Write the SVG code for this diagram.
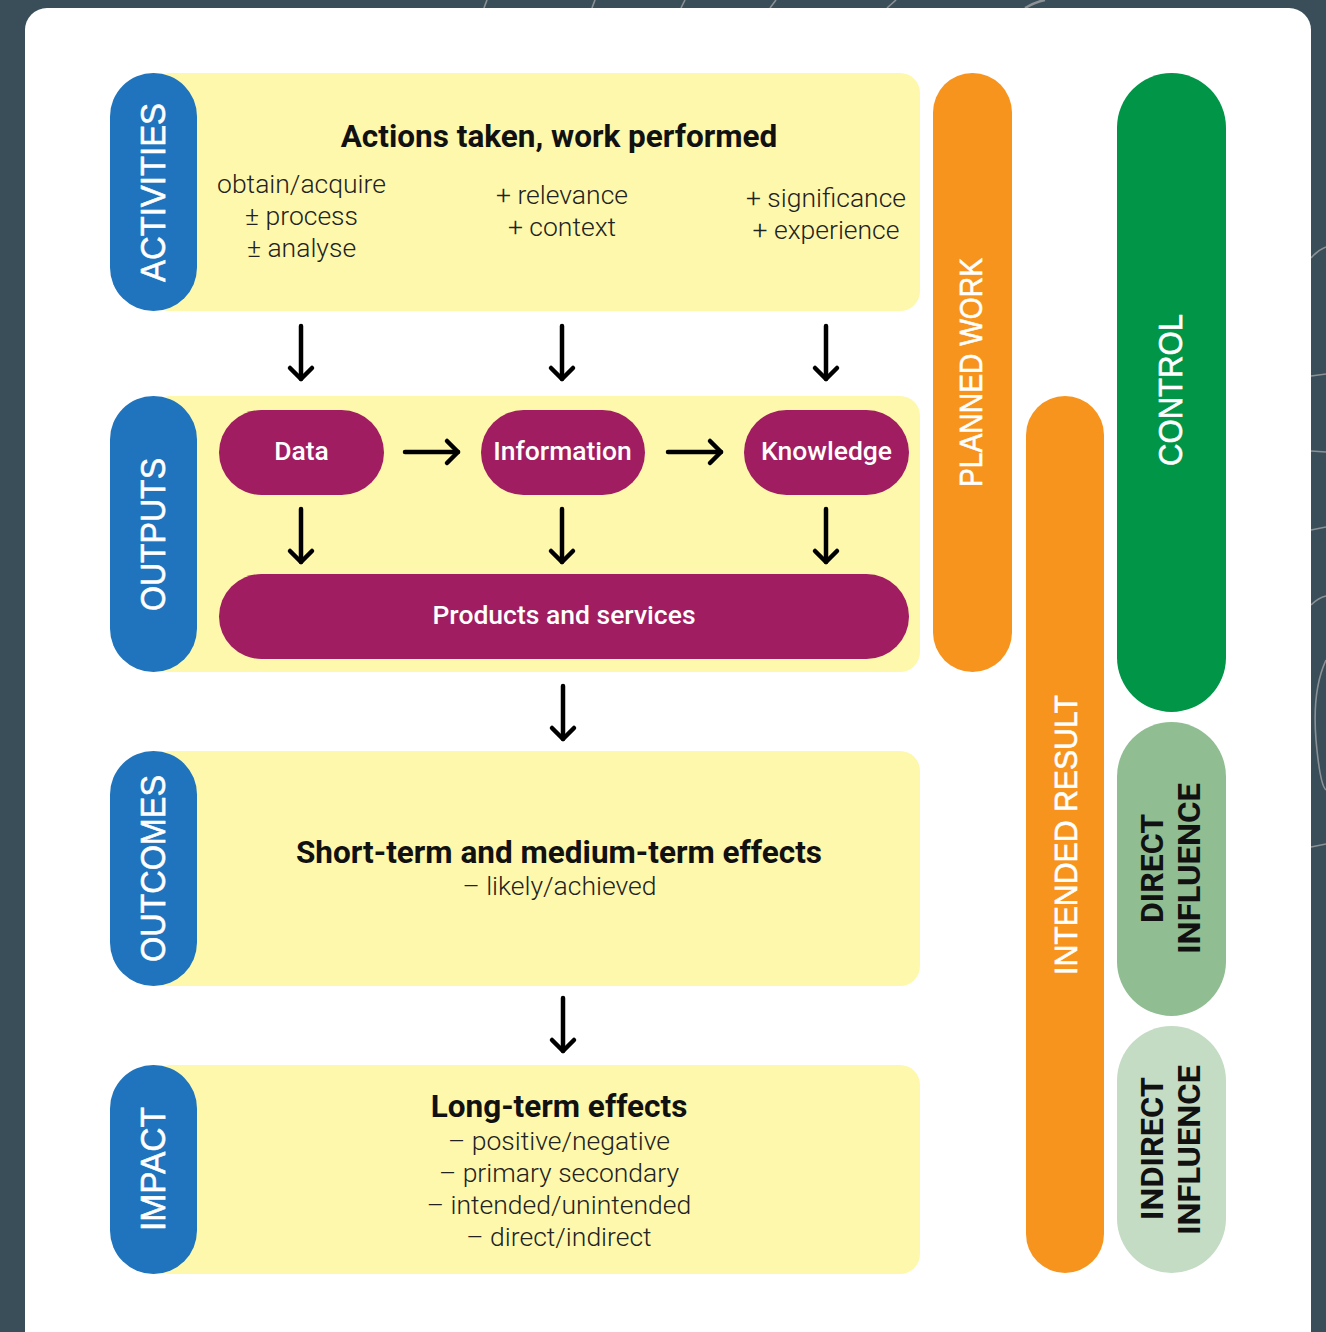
<svg xmlns="http://www.w3.org/2000/svg" width="1326" height="1332" viewBox="0 0 1326 1332">
<defs>
<style>
.bg{fill:#394e59}
.deco{fill:none;stroke:#8c9195;stroke-width:1.6}
.card{fill:#ffffff}
.yel{fill:#fef8ac}
.blue{fill:#1f74bd}
.purp{fill:#a01d61}
.orange{fill:#f7941e}
.green{fill:#009547}
.green2{fill:#90bd91}
.green3{fill:#c4dbc4}
.side{font-family:"Liberation Sans",Arial,sans-serif;fill:#ffffff;stroke:#ffffff;stroke-width:0.6;text-anchor:middle}
.side2{font-family:Roboto,"Liberation Sans",sans-serif;font-weight:700;fill:#111111;text-anchor:middle}
.ttl{font-family:Roboto,"Liberation Sans",sans-serif;font-weight:700;font-size:31.5px;fill:#111111;text-anchor:middle}
.txt{font-family:Roboto,"Liberation Sans",sans-serif;font-weight:300;font-size:26.5px;fill:#222222;text-anchor:middle}
.ptx{font-family:Roboto,"Liberation Sans",sans-serif;font-weight:500;font-size:26.5px;fill:#ffffff;text-anchor:middle}
.arr{fill:none;stroke:#000000;stroke-width:4.5;stroke-linecap:round;marker-end:url(#ah)}
</style>
<marker id="ah" viewBox="0 0 16 26" refX="13" refY="13" markerWidth="16" markerHeight="26" markerUnits="userSpaceOnUse" orient="auto" overflow="visible">
<path d="M2,2 L13,13 L2,24" fill="none" stroke="#000000" stroke-width="4.5" stroke-linecap="round" stroke-linejoin="round"/>
</marker>
</defs>

<rect class="bg" x="0" y="0" width="1326" height="1332"/>
<g id="decoration">
<path class="deco" d="M484,8 L487,0"/>
<path class="deco" d="M592,8 L595,0"/>
<path class="deco" d="M681,8 L685,0"/>
<path class="deco" d="M770,8 L776,0"/>
<path class="deco" d="M887,8 L896,0"/>
<path class="deco" d="M1025,8 Q1035,2 1045,0" style="stroke-width:2.5"/>
<path class="deco" d="M1311,258 Q1318,250 1326,247"/>
<path class="deco" d="M1311,376 L1326,374"/>
<path class="deco" d="M1311,451 L1326,452"/>
<path class="deco" d="M1311,530 L1326,527"/>
<path class="deco" d="M1311,605 Q1318,598 1326,596"/>
<path class="deco" d="M1326,660 Q1312,690 1316,740 Q1320,785 1326,790"/>
<path class="deco" d="M1311,847 L1326,844"/>
</g>
<rect class="card" x="25" y="8" width="1286" height="1350" rx="22"/>

<g id="activities">
<rect class="yel" x="150" y="73" width="770" height="238" rx="20"/>
<rect class="blue" x="110" y="73" width="87" height="238" rx="43.5"/>
<text class="side" transform="translate(165,192.5) rotate(-90)" font-size="35" textLength="179" lengthAdjust="spacingAndGlyphs">ACTIVITIES</text>
<text class="ttl" x="559" y="147">Actions taken, work performed</text>
<text class="txt" x="301.5" y="193">obtain/acquire</text>
<text class="txt" x="301.5" y="225">± process</text>
<text class="txt" x="301.5" y="257">± analyse</text>
<text class="txt" x="562" y="204">+ relevance</text>
<text class="txt" x="562" y="236">+ context</text>
<text class="txt" x="826" y="207">+ significance</text>
<text class="txt" x="826" y="239">+ experience</text>
</g>

<g id="outputs">
<rect class="yel" x="150" y="396" width="770" height="276" rx="20"/>
<rect class="blue" x="110" y="396" width="87" height="276" rx="43.5"/>
<text class="side" transform="translate(165,534.5) rotate(-90)" font-size="35" textLength="153" lengthAdjust="spacingAndGlyphs">OUTPUTS</text>
</g>
<g id="data">
<rect class="purp" x="219" y="410" width="165" height="85" rx="42.5"/>
<text class="ptx" x="301.5" y="460">Data</text>
</g>
<g id="information">
<rect class="purp" x="481" y="410" width="164" height="85" rx="42.5"/>
<text class="ptx" x="562.5" y="460">Information</text>
</g>
<g id="knowledge">
<rect class="purp" x="744" y="410" width="165" height="85" rx="42.5"/>
<text class="ptx" x="826.5" y="460">Knowledge</text>
</g>
<g id="products">
<rect class="purp" x="219" y="574" width="690" height="85" rx="42.5"/>
<text class="ptx" x="564" y="624">Products and services</text>
</g>

<g id="outcomes">
<rect class="yel" x="150" y="751" width="770" height="235" rx="20"/>
<rect class="blue" x="110" y="751" width="87" height="235" rx="43.5"/>
<text class="side" transform="translate(165,868.5) rotate(-90)" font-size="35" textLength="187" lengthAdjust="spacingAndGlyphs">OUTCOMES</text>
<text class="ttl" x="559" y="863">Short-term and medium-term effects</text>
<text class="txt" x="559.5" y="895">– likely/achieved</text>
</g>

<g id="impact">
<rect class="yel" x="150" y="1065" width="770" height="209" rx="20"/>
<rect class="blue" x="110" y="1065" width="87" height="209" rx="43.5"/>
<text class="side" transform="translate(165,1169) rotate(-90)" font-size="35" textLength="124" lengthAdjust="spacingAndGlyphs">IMPACT</text>
<text class="ttl" x="559" y="1117">Long-term effects</text>
<text class="txt" x="559" y="1150">– positive/negative</text>
<text class="txt" x="559" y="1182">– primary secondary</text>
<text class="txt" x="559" y="1214">– intended/unintended</text>
<text class="txt" x="559" y="1246">– direct/indirect</text>
</g>

<g id="planned-work">
<rect class="orange" x="933" y="73" width="79" height="599" rx="39.5"/>
<text class="side" transform="translate(982,372.5) rotate(-90)" font-size="31" textLength="229" lengthAdjust="spacingAndGlyphs">PLANNED WORK</text>
</g>
<g id="intended-result">
<rect class="orange" x="1026" y="396" width="78" height="877" rx="39"/>
<text class="side" transform="translate(1077,835) rotate(-90)" font-size="31" textLength="280" lengthAdjust="spacingAndGlyphs">INTENDED RESULT</text>
</g>
<g id="control">
<rect class="green" x="1117" y="73" width="109" height="639" rx="54.5"/>
<text class="side" transform="translate(1182,390) rotate(-90)" font-size="34" textLength="152" lengthAdjust="spacingAndGlyphs">CONTROL</text>
</g>
<g id="direct-influence">
<rect class="green2" x="1117" y="722" width="109" height="294" rx="54.5"/>
<text class="side2" transform="translate(1163,868.5) rotate(-90)" font-size="31" textLength="109" lengthAdjust="spacingAndGlyphs">DIRECT</text>
<text class="side2" transform="translate(1200,868.5) rotate(-90)" font-size="31" textLength="171" lengthAdjust="spacingAndGlyphs">INFLUENCE</text>
</g>
<g id="indirect-influence">
<rect class="green3" x="1117" y="1026" width="109" height="247" rx="54.5"/>
<text class="side2" transform="translate(1163,1148.5) rotate(-90)" font-size="31" textLength="143" lengthAdjust="spacingAndGlyphs">INDIRECT</text>
<text class="side2" transform="translate(1200,1150) rotate(-90)" font-size="31" textLength="170" lengthAdjust="spacingAndGlyphs">INFLUENCE</text>
</g>

<g id="connectors">
<path class="arr" d="M301,326 L301,379"/>
<path class="arr" d="M562,326 L562,379"/>
<path class="arr" d="M826,326 L826,379"/>
<path class="arr" d="M301,509 L301,562"/>
<path class="arr" d="M562,509 L562,562"/>
<path class="arr" d="M826,509 L826,562"/>
<path class="arr" d="M405,452 L458,452"/>
<path class="arr" d="M668,452 L721,452"/>
<path class="arr" d="M563,686 L563,739"/>
<path class="arr" d="M563,998 L563,1051"/>
</g>
</svg>
